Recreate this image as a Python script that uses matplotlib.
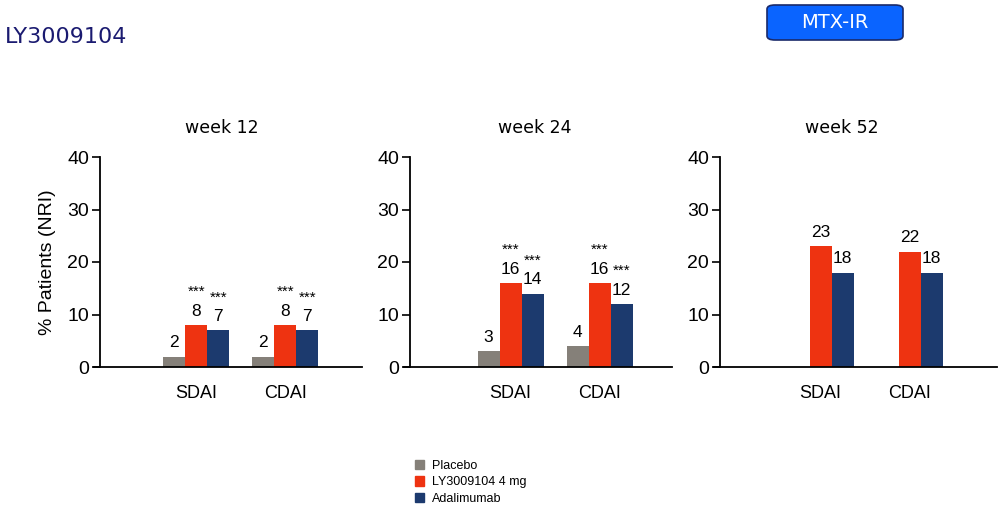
import numpy as np
import matplotlib
matplotlib.use("Agg")
import matplotlib.pyplot as plt
from matplotlib.patches import Patch, FancyBboxPatch

# data
weeks = ["week 12", "week 24", "week 52"]
groups = ["SDAI", "CDAI"]
placebo = [[2, 2], [3, 4], [None, None]]
ly = [[8, 8], [16, 16], [23, 22]]
ada = [[7, 7], [14, 12], [18, 18]]
ly_sig = [["***", "***"], ["***", "***"], ["", ""]]
ada_sig = [["***", "***"], ["***", "***"], ["", ""]]
yticks = [0, 10, 20, 30, 40]

c_pla = "#858079"
c_ly = "#EE3311"
c_ada = "#1C3A6E"

W, H = 1006, 508
fig = plt.figure(figsize=(W / 100, H / 100), dpi=100)

arial = "Liberation Sans"
# panel placement in pixels: (left, width)
panels = [(100, 262), (410, 262), (720, 277)]
xleft = [-1.08, -1.13, -1.13]
title_x = [0.466, 0.477, 0.44]
gap = 89.0   # px between group centers
bw = 0.247

x = np.arange(len(groups))
for i, (lpx, wpx) in enumerate(panels):
    ax = fig.add_axes([lpx / W, (H - 367) / H, wpx / W, 210 / H])
    pv = [0 if v is None else v for v in placebo[i]]
    if placebo[i][0] is not None:
        ax.bar(x - bw, pv, bw, color=c_pla, align="center")
    ax.bar(x, ly[i], bw, color=c_ly)
    ax.bar(x + bw, ada[i], bw, color=c_ada)

    for j in range(len(groups)):
        if placebo[i][j] is not None:
            ax.text(x[j] - bw, placebo[i][j] + 1.2, str(placebo[i][j]), ha="center", va="bottom",
                    fontsize=12.5, family=arial)
        ax.text(x[j], ly[i][j] + 1.2, str(ly[i][j]), ha="center", va="bottom", fontsize=12.5, family=arial)
        ax.text(x[j] + bw, ada[i][j] + 1.2, str(ada[i][j]), ha="center", va="bottom", fontsize=12.5,
                family=arial)
        if ly_sig[i][j]:
            ax.text(x[j], ly[i][j] + 4.9, ly_sig[i][j], ha="center", va="bottom", fontsize=11, family=arial)
        if ada_sig[i][j]:
            ax.text(x[j] + bw, ada[i][j] + 4.9, ada_sig[i][j], ha="center", va="bottom", fontsize=11,
                    family=arial)

    ax.set_xlim(xleft[i], xleft[i] + wpx / gap)
    ax.set_ylim(0, 40)
    ax.set_yticks(yticks)
    ax.set_xticks(x)
    ax.set_xticklabels(groups, fontsize=13, family=arial)
    for lab in ax.get_yticklabels():
        lab.set_fontsize(14)
        lab.set_family(arial)
    ax.tick_params(axis="x", length=0, pad=13)
    ax.tick_params(axis="y", length=6, width=1.2, direction="out", pad=2)
    ax.spines["top"].set_visible(False)
    ax.spines["right"].set_visible(False)
    ax.spines["left"].set_linewidth(1.3)
    ax.spines["bottom"].set_linewidth(1.3)
    ax.spines["bottom"].set_bounds(xleft[i] - 6 / gap, xleft[i] + wpx / gap)
    ax.set_facecolor("none")
    ax.text(title_x[i], 1 + 29 / 210, weeks[i], transform=ax.transAxes, ha="center", va="center",
            fontsize=12.5, family="DejaVu Sans")
    if i == 0:
        ax.set_ylabel("% Patients (NRI)", fontsize=14, family=arial, labelpad=8)

# legend
handles = [Patch(color=c_pla, label="Placebo"),
           Patch(color=c_ly, label="LY3009104 4 mg"),
           Patch(color=c_ada, label="Adalimumab")]
fig.legend(handles=handles, loc="upper left", bbox_to_anchor=(410 / W, 1 - 455 / H), frameon=False,
           prop={"family": arial, "size": 9}, handlelength=0.75, handleheight=0.75,
           handletextpad=0.6, labelspacing=0.35, borderaxespad=0)

# header
fig.text(5 / W, 1 - 37 / H, "LY3009104", color="#1a1a70", fontsize=16, family="DejaVu Sans",
         ha="left", va="center")
box = FancyBboxPatch((767 / W, 1 - 40 / H), 136 / W, 35 / H, boxstyle="round,pad=0,rounding_size=0.008",
                     transform=fig.transFigure, facecolor="#0a64ff", edgecolor="#1a2a6a", linewidth=1.2)
fig.patches.append(box)
fig.text(835 / W, 1 - 23 / H, "MTX-IR", color="white", fontsize=14, family="DejaVu Sans",
         ha="center", va="center")

fig.savefig("out.png", dpi=100)
